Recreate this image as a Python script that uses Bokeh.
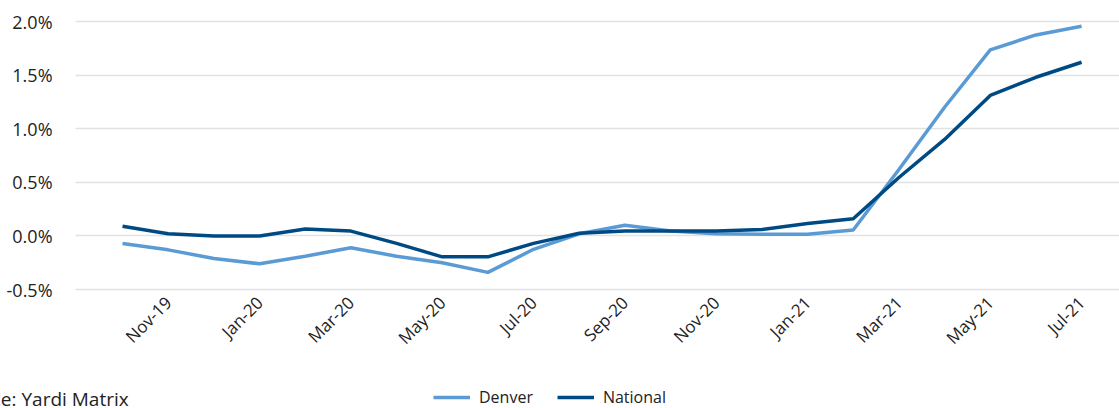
import math
from bokeh.plotting import figure
from bokeh.models import (FixedTicker, PrintfTickFormatter, Legend, LegendItem,
                          Label, ColumnDataSource, LinearAxis, Grid)
from bokeh.embed import file_html
from bokeh.resources import INLINE

months = ["Oct-19", "Nov-19", "Dec-19", "Jan-20", "Feb-20", "Mar-20", "Apr-20",
          "May-20", "Jun-20", "Jul-20", "Aug-20", "Sep-20", "Oct-20", "Nov-20",
          "Dec-20", "Jan-21", "Feb-21", "Mar-21", "Apr-21", "May-21", "Jun-21",
          "Jul-21"]
denver = [-0.07, -0.13, -0.21, -0.26, -0.19, -0.11, -0.19, -0.25, -0.34, -0.125,
          0.02, 0.10, 0.045, 0.02, 0.015, 0.015, 0.055, 0.62, 1.20, 1.735,
          1.875, 1.955]
national = [0.09, 0.02, 0.0, 0.0, 0.065, 0.045, -0.07, -0.195, -0.195, -0.07,
            0.025, 0.045, 0.045, 0.045, 0.06, 0.115, 0.16, 0.545, 0.90, 1.31,
            1.48, 1.62]
y_ticks = [-0.5, 0.0, 0.5, 1.0, 1.5, 2.0]
label_idx = list(range(1, len(months), 2))

FONT = "Open Sans"
TXT = "#222222"

# plotting extents (data units)
X_LEFT, X_PLOT, X_RIGHT = -2.672, -1.029, 21.83
Y_BOTTOM, Y_TOP = -1.610, 2.196

src = ColumnDataSource(dict(x=list(range(len(months))), d=denver, n=national))

p = figure(width=1119, height=408, output_backend="svg", toolbar_location=None,
           x_range=(X_LEFT, X_RIGHT), y_range=(Y_BOTTOM, Y_TOP),
           x_axis_location=None, y_axis_location=None)
p.min_border = 0
p.outline_line_color = None
p.background_fill_color = "white"
p.border_fill_color = "white"
for g in list(p.center):
    if isinstance(g, Grid):
        g.visible = False

yaxis = LinearAxis(ticker=FixedTicker(ticks=y_ticks),
                   formatter=PrintfTickFormatter(format="%.1f%%"),
                   fixed_location=X_PLOT)
xaxis = LinearAxis(ticker=FixedTicker(ticks=label_idx),
                   major_label_overrides={i: months[i] for i in label_idx},
                   major_label_orientation=math.pi / 4,
                   fixed_location=y_ticks[0])
for ax in (xaxis, yaxis):
    ax.axis_line_color = None
    ax.major_tick_line_color = None
    ax.minor_tick_line_color = None
    ax.major_label_text_font = FONT
    ax.major_label_text_color = TXT
yaxis.major_label_text_font_size = "18px"
xaxis.major_label_text_font_size = "17px"
yaxis.major_label_standoff = 17
xaxis.major_label_standoff = 4
p.add_layout(yaxis, "left")
p.add_layout(xaxis, "below")

ygrid = Grid(dimension=1, ticker=FixedTicker(ticks=y_ticks),
             grid_line_color="#e2e2e2", grid_line_width=1.3,
             cross_bounds=(X_PLOT, X_RIGHT))
p.add_layout(ygrid)

r_d = p.line("x", "d", source=src, line_color="#5B9BD5", line_width=3.5)
r_n = p.line("x", "n", source=src, line_color="#004A84", line_width=3.5)

legend = Legend(items=[LegendItem(label="Denver", renderers=[r_d]),
                       LegendItem(label="National", renderers=[r_n])],
                orientation="horizontal", location=(433, 0),
                glyph_width=37, label_standoff=9, spacing=24, padding=0,
                margin=0, border_line_color=None, background_fill_alpha=0,
                label_text_font=FONT, label_text_font_size="16px",
                label_text_color=TXT)
p.add_layout(legend, "center")

src_label = Label(x=-50, y=10, x_units="screen", y_units="screen",
                  text="Source: Yardi Matrix", text_font=FONT,
                  text_baseline="middle",
                  text_font_size="19px", text_color=TXT)
p.add_layout(src_label)

open("out.html", "w").write(file_html(p, INLINE))
